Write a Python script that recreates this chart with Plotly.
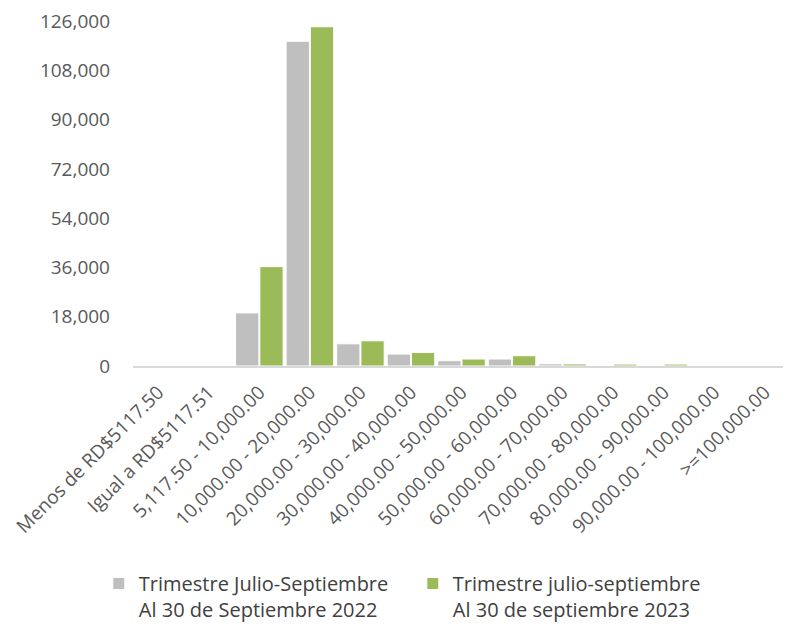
import plotly.graph_objects as go

categories = [
    "Menos de RD$5117.50",
    "Igual a RD$5117.51",
    "5,117.50 - 10,000.00",
    "10,000.00 - 20,000.00",
    "20,000.00 - 30,000.00",
    "30,000.00 - 40,000.00",
    "40,000.00 - 50,000.00",
    "50,000.00 - 60,000.00",
    "60,000.00 - 70,000.00",
    "70,000.00 - 80,000.00",
    "80,000.00 - 90,000.00",
    "90,000.00 - 100,000.00",
    ">=100,000.00",
]
series_2022 = [0, 0, 19400, 118600, 8100, 4350, 1950, 2550, 800, 100, 100, 0, 0]
series_2023 = [0, 0, 36300, 123900, 9200, 4950, 2550, 3750, 750, 700, 700, 0, 0]
name_2022 = "Trimestre Julio-Septiembre<br>Al 30 de Septiembre 2022"
name_2023 = "Trimestre julio-septiembre<br>Al 30 de septiembre 2023"
y_ticks = [0, 18000, 36000, 54000, 72000, 90000, 108000, 126000]

font_family = "Open Sans, Noto Sans, sans-serif"
tick_color = "#595959"

fig = go.Figure()
fig.add_trace(go.Bar(
    x=categories, y=series_2022, name=name_2022,
    marker=dict(color="#BFBFBF", line=dict(color="white", width=1)),
))
fig.add_trace(go.Bar(
    x=categories, y=series_2023, name=name_2023,
    marker=dict(color="#9BBB59", line=dict(color="white", width=1)),
))

# the page body adds an 8px margin, so the figure is sized to fit inside it
fig.update_layout(
    width=783, height=621,
    barmode="group", bargap=0.04, bargroupgap=0.04,
    paper_bgcolor="white", plot_bgcolor="white",
    margin=dict(l=125, r=1, t=13, b=263),
    font=dict(family=font_family, size=18, color=tick_color),
    showlegend=True,
    legend=dict(
        orientation="h", xref="container", x=0.116, xanchor="left",
        yref="container", y=-0.006, yanchor="bottom",
        font=dict(size=20, color="#404040"),
        itemwidth=30, traceorder="normal", valign="top",
        entrywidth=269,
    ),
)
fig.update_xaxes(
    tickangle=-45, showline=True, linecolor="#D9D9D9", linewidth=1.5,
    showgrid=False, ticks="", tickfont=dict(size=19, color=tick_color),
    automargin=False, ticklabelstandoff=6, ticklabeloverflow="allow",
)
fig.update_yaxes(
    range=[0, 126000], tickvals=y_ticks, tickformat=",d",
    showgrid=False, zeroline=False, showline=False, ticks="",
    tickfont=dict(size=19, color=tick_color), ticklabelstandoff=22,
    automargin=False, ticklabeloverflow="allow",
)

fig.write_html("out.html")
